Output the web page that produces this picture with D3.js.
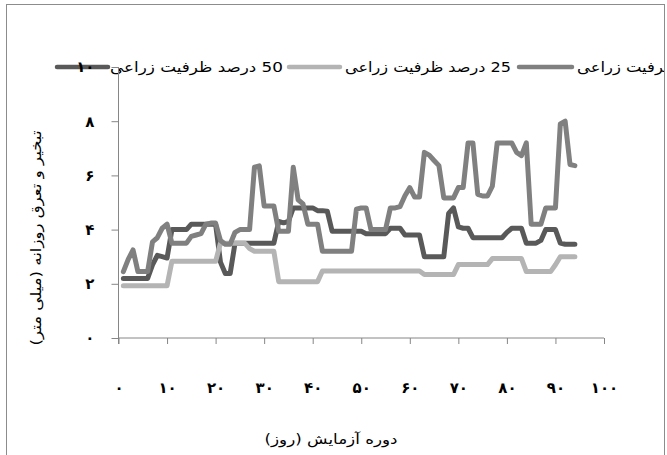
<!DOCTYPE html>
<html><head><meta charset="utf-8">
<script src="https://cdn.jsdelivr.net/npm/d3@7"></script>
<style>body{margin:0;background:#fff}svg{display:block}</style>
</head><body>
<svg id="chart" width="667" height="455"></svg>
<script>
// ---------------- data ----------------
const days = [1,2,3,4,5,6,7,8,9,10,11,12,13,14,15,16,17,18,19,20,21,22,23,24,25,26,27,28,29,30,31,32,33,34,35,36,37,38,39,40,41,42,43,44,45,46,47,48,49,50,51,52,53,54,55,56,57,58,59,60,61,62,63,64,65,66,67,68,69,70,71,72,73,74,75,76,77,78,79,80,81,82,83,84,85,86,87,88,89,90,91,92,93,94];
// 50% field capacity (dark grey)
const fc50 = [2.2,2.2,2.2,2.2,2.2,2.2,2.7,3.05,3.0,2.95,4.0,4.0,4.0,4.0,4.2,4.2,4.2,4.2,4.2,4.2,2.8,2.38,2.38,3.5,3.5,3.5,3.5,3.5,3.5,3.5,3.5,3.5,4.3,4.25,4.3,4.8,4.8,4.8,4.8,4.8,4.7,4.7,4.68,3.94,3.94,3.94,3.94,3.94,3.94,3.94,3.85,3.85,3.85,3.85,3.85,4.05,4.05,4.05,3.8,3.8,3.8,3.8,3.0,3.0,3.0,3.0,3.0,4.6,4.8,4.1,4.05,4.05,3.7,3.7,3.7,3.7,3.7,3.7,3.7,3.9,4.05,4.05,4.05,3.5,3.5,3.5,3.6,4.0,4.0,4.0,3.5,3.46,3.46,3.46];
// 25% field capacity (light grey)
const fc25 = [1.93,1.93,1.93,1.93,1.93,1.93,1.93,1.93,1.93,1.93,2.83,2.83,2.83,2.83,2.83,2.83,2.83,2.83,2.83,2.83,3.5,3.5,3.5,3.5,3.5,3.5,3.3,3.2,3.2,3.2,3.2,3.2,2.08,2.08,2.08,2.08,2.08,2.08,2.08,2.08,2.08,2.47,2.47,2.47,2.47,2.47,2.47,2.47,2.47,2.47,2.47,2.47,2.47,2.47,2.47,2.47,2.47,2.47,2.47,2.47,2.47,2.47,2.34,2.34,2.34,2.34,2.34,2.34,2.34,2.71,2.71,2.71,2.71,2.71,2.71,2.71,2.93,2.93,2.93,2.93,2.93,2.93,2.93,2.45,2.45,2.45,2.45,2.45,2.45,2.7,3.0,3.0,3.0,3.0];
// full field capacity (medium grey)
const fc100 = [2.45,2.9,3.25,2.45,2.45,2.45,3.55,3.7,4.05,4.2,3.5,3.5,3.5,3.5,3.75,3.8,3.85,4.2,4.24,4.24,3.6,3.46,3.46,3.9,4.0,4.0,4.0,6.3,6.35,4.87,4.87,4.87,3.94,3.94,3.94,6.3,5.1,4.95,4.2,4.2,4.2,3.2,3.2,3.2,3.2,3.2,3.2,3.2,4.75,4.8,4.8,4.0,4.0,4.0,4.0,4.8,4.8,4.85,5.25,5.55,5.2,5.2,6.85,6.75,6.55,6.36,5.17,5.17,5.17,5.55,5.55,7.2,7.2,5.3,5.24,5.24,5.6,7.2,7.2,7.2,7.2,6.85,6.73,7.2,4.2,4.2,4.2,4.8,4.8,4.8,7.9,8.0,6.4,6.36];

const seriesNames = ["50 درصد ظرفیت زراعی", "25 درصد ظرفیت زراعی", "ظرفیت زراعی"];
const seriesColors = ["#595959", "#b4b4b4", "#808080"];
const seriesValues = [fc50, fc25, fc100];

const yTicks = [0, 2, 4, 6, 8, 10];
const yTickLabels = ["۰", "۲", "۴", "۶", "۸", "۱۰"];
const xTicks = [0, 10, 20, 30, 40, 50, 60, 70, 80, 90, 100];
const xTickLabels = ["۰", "۱۰", "۲۰", "۳۰", "۴۰", "۵۰", "۶۰", "۷۰", "۸۰", "۹۰", "۱۰۰"];
const xTitle = "دوره آزمایش  (روز)";
const yTitle = "تبخیر و تعرق روزانه (میلی متر)";

// ---------------- drawing ----------------
const svg = d3.select("#chart");
const FONT = "'DejaVu Sans', 'Noto Sans', sans-serif";
const axisColor = "#868686";

svg.append("rect").attr("width", 667).attr("height", 455).attr("fill", "#fff");
svg.append("rect").attr("x", 6.5).attr("y", 4.5).attr("width", 658).attr("height", 480)
  .attr("fill", "none").attr("stroke", "#8c8c8c").attr("stroke-width", 1);

const x = d3.scaleLinear().domain([0, 100]).range([118.5, 604]);
const y = d3.scaleLinear().domain([0, 10]).range([338, 67]);

// y axis
const yAxis = svg.append("g").attr("transform", "translate(118.5,0)")
  .call(d3.axisLeft(y).tickValues(yTicks).tickSize(7).tickPadding(17)
    .tickFormat((d, i) => yTickLabels[i]));
yAxis.select(".domain").attr("stroke", axisColor).attr("d", `M0,${y(10)}V${y(0) + 6}`);
yAxis.selectAll(".tick line").attr("stroke", axisColor);
yAxis.selectAll(".tick text").attr("font-family", FONT).attr("font-size", 15)
  .attr("font-weight", "bold").attr("fill", "#000");

// x axis
const xAxis = svg.append("g").attr("transform", `translate(0,${y(0)})`)
  .call(d3.axisBottom(x).tickValues(xTicks).tickSize(6).tickPadding(38)
    .tickFormat((d, i) => xTickLabels[i]));
xAxis.select(".domain").attr("stroke", axisColor).attr("d", `M${x(0)},0H${x(100)}`);
xAxis.selectAll(".tick line").attr("stroke", axisColor);
xAxis.selectAll(".tick text").attr("font-family", FONT).attr("font-size", 15)
  .attr("font-weight", "bold").attr("fill", "#000");

// lines
const line = d3.line().x((d, i) => x(days[i])).y(d => y(d));
seriesValues.forEach((vals, k) => {
  svg.append("path").datum(vals).attr("d", line)
    .attr("fill", "none").attr("stroke", seriesColors[k])
    .attr("stroke-width", 5)
    .attr("stroke-linejoin", "round").attr("stroke-linecap", "round");
});

// axis titles
svg.append("text").attr("x", 331).attr("y", 444).attr("text-anchor", "middle")
  .attr("direction", "rtl").attr("font-family", FONT).attr("font-size", 14)
  .attr("fill", "#000").attr("textLength", 133).attr("lengthAdjust", "spacingAndGlyphs")
  .text(xTitle);
svg.append("text").attr("transform", "translate(41,238) rotate(-90)")
  .attr("text-anchor", "middle").attr("direction", "rtl")
  .attr("font-family", FONT).attr("font-size", 14).attr("fill", "#000")
  .attr("textLength", 215).attr("lengthAdjust", "spacingAndGlyphs").text(yTitle);

// legend
svg.append("clipPath").attr("id", "lgclip").append("rect")
  .attr("x", 0).attr("y", 0).attr("width", 664).attr("height", 455);
const lg = svg.append("g").attr("clip-path", "url(#lgclip)");
const keyX = [[57, 108], [289, 340], [519, 572]];
const textX = [[110, 283], [345, 511], [577, 677]];
seriesNames.forEach((name, k) => {
  lg.append("line").attr("x1", keyX[k][0]).attr("x2", keyX[k][1])
    .attr("y1", 67).attr("y2", 67).attr("stroke", seriesColors[k])
    .attr("stroke-width", 4.5).attr("stroke-linecap", "round");
  lg.append("text").attr("x", (textX[k][0] + textX[k][1]) / 2).attr("y", 72)
    .attr("text-anchor", "middle").attr("direction", "rtl")
    .attr("font-family", FONT).attr("font-size", 14).attr("fill", "#000")
    .attr("textLength", textX[k][1] - textX[k][0]).attr("lengthAdjust", "spacingAndGlyphs")
    .text(name);
});
// keep the "10" tick label above the legend key, as in the reference
yAxis.raise();
</script>
</body></html>
